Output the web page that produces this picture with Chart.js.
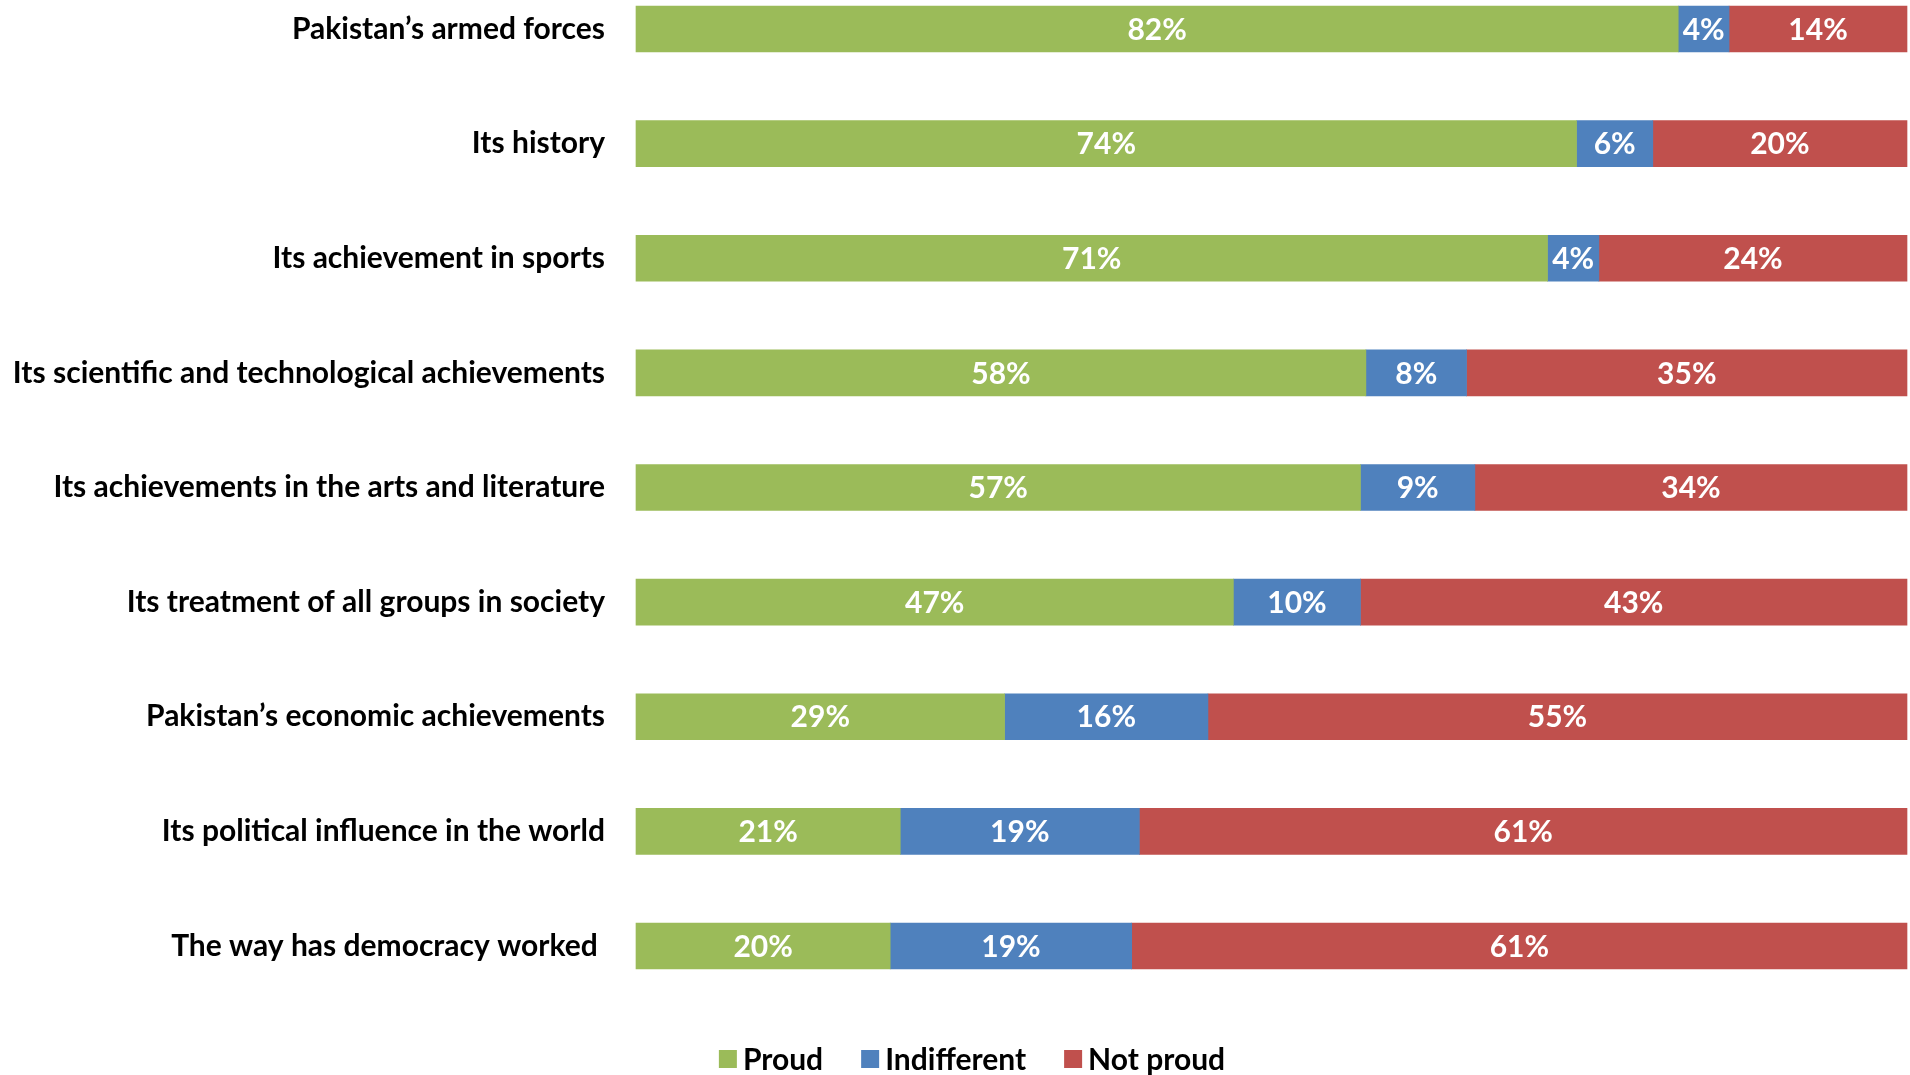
<!DOCTYPE html>
<html>
<head>
<meta charset="utf-8">
<script src="https://cdn.jsdelivr.net/npm/chart.js@4.4.1/dist/chart.umd.min.js"></script>
<style>
  html, body { margin: 0; padding: 0; background: #fff; }
  #wrap { width: 1910px; height: 1075px; position: relative; }
</style>
</head>
<body>
<div id="wrap"><canvas id="c" width="1910" height="1075"></canvas></div>
<script>
const categories = [
  "Pakistan\u2019s armed forces",
  "Its history",
  "Its achievement in sports",
  "Its scientific and technological achievements",
  "Its achievements in the arts and literature",
  "Its treatment of all groups in society",
  "Pakistan\u2019s economic achievements",
  "Its political influence in the world",
  "The way has democracy worked "
];
const proud       = [82, 74, 71, 58, 57, 47, 29, 21, 20];
const indifferent = [ 4,  6,  4,  8,  9, 10, 16, 19, 19];
const notProud    = [14, 20, 24, 35, 34, 43, 55, 61, 61];
const seriesNames = ["Proud", "Indifferent", "Not proud"];
const seriesColors = ["#9BBB59", "#4F81BD", "#C0504D"];

const raw = [proud, indifferent, notProud];
// 100% stacked: each row drawn as share of its own total
const totals = categories.map((_, i) => raw.reduce((s, arr) => s + arr[i], 0));
const shares = raw.map(arr => arr.map((v, i) => v / totals[i] * 100));

const FONT = "Lato";

const labelPlugin = {
  id: 'segLabels',
  afterDatasetsDraw(chart) {
    const ctx = chart.ctx;
    ctx.save();
    ctx.fillStyle = '#fff';
    ctx.font = 'bold 30px ' + FONT;
    ctx.textAlign = 'center';
    ctx.textBaseline = 'middle';
    chart.data.datasets.forEach((ds, di) => {
      const meta = chart.getDatasetMeta(di);
      meta.data.forEach((bar, i) => {
        const x = (bar.x + bar.base) / 2;
        ctx.fillText(raw[di][i] + '%', x, bar.y + 1);
      });
    });
    ctx.restore();
  }
};

const legendPlugin = {
  id: 'customLegend',
  afterDraw(chart) {
    const ctx = chart.ctx;
    ctx.save();
    ctx.font = 'bold 30px ' + FONT;
    ctx.textBaseline = 'middle';
    const box = 18, gapText = 6, gapItem = 38;
    const widths = seriesNames.map(n => box + gapText + ctx.measureText(n).width);
    const total = widths.reduce((a, b) => a + b, 0) + gapItem * (widths.length - 1);
    let x = 972 - total / 2;
    const y = 1059;
    seriesNames.forEach((n, i) => {
      ctx.fillStyle = seriesColors[i];
      ctx.fillRect(x, y - box / 2, box, box);
      ctx.fillStyle = '#000';
      ctx.textAlign = 'left';
      ctx.fillText(n, x + box + gapText, y + 1);
      x += widths[i] + gapItem;
    });
    ctx.restore();
  }
};

new Chart(document.getElementById('c'), {
  type: 'bar',
  data: {
    labels: categories,
    datasets: shares.map((arr, i) => ({
      label: seriesNames[i],
      data: arr,
      backgroundColor: seriesColors[i],
      borderWidth: 0,
      barThickness: 46,
      clip: false
    }))
  },
  options: {
    indexAxis: 'y',
    responsive: false,
    animation: false,
    layout: { padding: { left: 0, right: 3, top: 29, bottom: 0 } },
    plugins: {
      legend: { display: false },
      tooltip: { enabled: false }
    },
    scales: {
      x: {
        stacked: true, min: 0, max: 100,
        grid: { display: false, drawTicks: false },
        border: { display: false },
        ticks: { display: false },
        afterFit(s) { s.height = 129; s.paddingLeft = 0; s.paddingRight = 0; }
      },
      y: {
        stacked: true,
        offset: false,
        grid: { display: false, drawTicks: false },
        border: { display: false },
        ticks: {
          color: '#000',
          padding: 31,
          font: { family: FONT, size: 30, weight: 'bold' }
        },
        afterFit(s) { s.width = 636; s.paddingTop = 0; s.paddingBottom = 0; }
      }
    }
  },
  plugins: [labelPlugin, legendPlugin]
});
</script>
</body>
</html>
